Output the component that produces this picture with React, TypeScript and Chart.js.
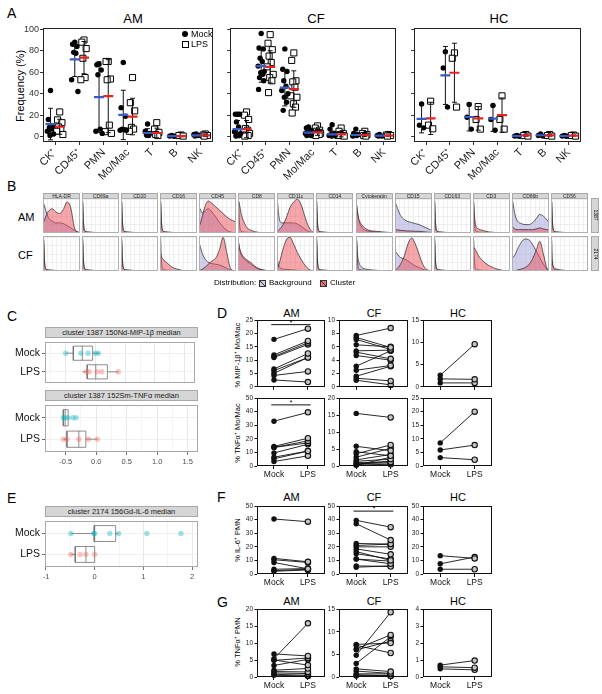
import React, { useEffect, useRef } from 'react';
import { Chart, registerables } from 'chart.js';

Chart.register(...registerables);

const FONT = "'Liberation Sans', Arial, Helvetica, sans-serif";
Chart.defaults.font.family = FONT;

const boxBorder = {
  id: 'boxBorder',
  afterDraw(chart: any, _a: any, opts: any) {
    if (!opts || !opts.color) return;
    const { ctx, chartArea: a } = chart;
    ctx.save();
    ctx.strokeStyle = opts.color;
    ctx.lineWidth = opts.width || 1;
    ctx.strokeRect(Math.round(a.left) + 0.5, Math.round(a.top) + 0.5, Math.round(a.width) - 1, Math.round(a.height) - 1);
    ctx.restore();
  },
};
Chart.register(boxBorder);

// ---------------- Panel A data ----------------
const A_CATS = ['CK⁺', 'CD45⁺', 'PMN', 'Mo/Mac', 'T', 'B', 'NK'];
const A_YTICKS = [0, 20, 40, 60, 80, 100];

const AM_MOCK = [[43, 16, 10, 8.6, 7, 5, 2.5, 1], [88, 86, 84, 78.5, 77.6, 53, 42], [67.5, 67, 62, 57.7, 7, 5, 3], [69, 27, 19, 7, 6.4, 6, 6], [11.7, 5, 3, 1.5, 1], [1, 0.5, 0.3], [2.5, 2, 1, 0.5]];
const AM_LPS = [[23, 15.6, 13, 9, 7, 5, 2], [90, 88, 82, 73, 55, 53], [70, 70, 53.7, 53, 10.7, 4.6, 3], [55, 31.6, 24, 8.6, 7, 5], [13, 7, 4, 2, 1], [1.5, 1, 0.5], [2.5, 1.5, 1, 0.5]];
const AM_MOCK_MEAN = [11.7, 72, 36.8, 20.2, 3.4, 0.4, 1.1];
const AM_MOCK_SD = [14.7, 16, 33, 23, 4, 0.4, 0.9];
const AM_LPS_MEAN = [9.2, 73.6, 37.7, 18.7, 3.4, 0.4, 1.1];
const AM_LPS_SD = [7, 15, 34, 17, 4.5, 0.5, 0.9];

const CF_MOCK = [[20.8, 20.8, 20.8, 13.7, 9, 4.6, 3, 1.5, 1, 0.5], [96, 82.6, 81.7, 73, 70, 65.7, 60.6, 59.6, 58, 55, 52, 44], [81.7, 62.7, 60.6, 52, 47, 43, 40, 36.7, 32, 24.5], [9, 8, 6, 5, 4, 3, 3, 2, 2, 1, 1], [11, 7, 3, 2, 1, 1, 1, 0.5], [7, 3, 2, 1, 1, 0.5], [2, 1, 0.5, 0.5]];
const CF_LPS = [[23, 20, 16, 7.6, 6, 4.6, 3, 1.5, 1, 0.5], [95, 87, 81, 75, 69, 65, 58, 55, 52, 41], [78, 71, 52, 51, 46, 38, 36.7, 30.6, 27.5, 22], [10, 8, 6, 5, 4, 3, 3, 2, 2, 1], [8, 5, 3, 2, 1, 1, 0.5], [5, 3, 2, 1, 0.5], [2, 1.5, 1, 0.5]];
const CF_MOCK_MEAN = [7, 65.7, 45.6, 3.7, 2.1, 1.5, 0.9];
const CF_MOCK_SD = [8, 15, 17, 2.5, 3, 2, 0.6];
const CF_LPS_MEAN = [7, 65, 44.3, 4, 2.1, 1.5, 0.9];
const CF_LPS_SD = [8, 15, 17, 2.8, 2.3, 1.5, 0.6];

const HC_MOCK = [[30.5, 10.7, 8.2], [79, 64, 27.5], [30, 18, 7], [29, 16, 6], [1, 0.5, 0.3], [2.5, 1, 0.5], [1, 0.5, 0.3]];
const HC_LPS = [[33, 10.7, 7.3], [78, 73, 27.5], [28, 16, 7], [38, 16, 7], [2, 1, 0.5], [2, 1, 0.5], [1.5, 1, 0.5]];
const HC_MOCK_MEAN = [16.5, 57, 18.3, 16.8, 0.6, 1.3, 0.6];
const HC_MOCK_SD = [13, 27, 13, 12, 0.4, 1, 0.4];
const HC_LPS_MEAN = [17, 59.5, 17, 20, 1.2, 1.2, 1];
const HC_LPS_SD = [15, 27.5, 11, 16, 0.8, 0.8, 0.5];

// ---------------- Panel B data ----------------
const HIST_MARKERS = ['HLA-DR', 'CD69a', 'CD20', 'CD16', 'CD45', 'CD8', 'CD11c', 'CD14', 'Cytokeratin', 'CD15', 'CD163', 'CD3', 'CD66b', 'CD56'];
const HIST_X = [0, 0.015, 0.04, 0.08, 0.15, 0.25, 0.35, 0.45, 0.55, 0.65, 0.75, 0.85, 0.95, 1.0];
const SPIKE = [0, 0.95, 0.3, 0.06, 0.03, 0.02, 0.015, 0.01, 0.01, 0.005, 0, 0, 0, 0];
const HIST_AM_BG = [
  [0.9, 0.88, 0.8, 0.65, 0.45, 0.35, 0.3, 0.3, 0.28, 0.22, 0.15, 0.08, 0.03, 0],
  SPIKE, SPIKE, SPIKE,
  [0.75, 0.74, 0.7, 0.6, 0.65, 0.72, 0.62, 0.48, 0.32, 0.18, 0.08, 0.03, 0.01, 0],
  SPIKE,
  [0, 0.9, 0.6, 0.35, 0.3, 0.3, 0.3, 0.3, 0.27, 0.2, 0.12, 0.05, 0.01, 0],
  SPIKE,
  [0, 0.85, 0.6, 0.35, 0.18, 0.08, 0.05, 0.04, 0.03, 0.02, 0.01, 0, 0, 0],
  [0.9, 0.88, 0.82, 0.7, 0.52, 0.4, 0.34, 0.31, 0.28, 0.25, 0.2, 0.15, 0.1, 0.08],
  SPIKE, SPIKE,
  [0, 0.95, 0.8, 0.55, 0.35, 0.28, 0.25, 0.25, 0.3, 0.42, 0.55, 0.5, 0.38, 0.3],
  SPIKE,
];
const HIST_AM_CL = [
  [0.3, 0.32, 0.38, 0.5, 0.65, 0.72, 0.62, 0.58, 0.7, 0.92, 0.75, 0.15, 0.02, 0],
  SPIKE, SPIKE, SPIKE,
  [0.2, 0.22, 0.3, 0.45, 0.75, 0.95, 0.88, 0.78, 0.68, 0.58, 0.48, 0.4, 0.35, 0.33],
  [0, 0.95, 0.85, 0.6, 0.35, 0.15, 0.08, 0.04, 0.02, 0.01, 0, 0, 0, 0],
  [0.03, 0.05, 0.08, 0.12, 0.22, 0.45, 0.75, 0.92, 1.0, 0.85, 0.5, 0.2, 0.04, 0],
  SPIKE,
  [0, 0.8, 0.62, 0.4, 0.25, 0.14, 0.08, 0.06, 0.05, 0.04, 0.03, 0.02, 0.01, 0],
  [0.1, 0.1, 0.1, 0.09, 0.08, 0.07, 0.06, 0.06, 0.05, 0.05, 0.04, 0.03, 0.02, 0.02],
  SPIKE,
  [0, 0.9, 0.5, 0.2, 0.12, 0.08, 0.05, 0.03, 0.02, 0.01, 0, 0, 0, 0],
  [0, 0.2, 0.15, 0.12, 0.1, 0.1, 0.1, 0.1, 0.1, 0.12, 0.15, 0.12, 0.1, 0.08],
  SPIKE,
];
const HIST_CF_BG = [
  SPIKE, SPIKE, SPIKE, SPIKE,
  [0.85, 0.8, 0.7, 0.55, 0.38, 0.26, 0.22, 0.2, 0.18, 0.14, 0.08, 0.03, 0.01, 0],
  [0, 0.8, 0.65, 0.5, 0.38, 0.28, 0.2, 0.12, 0.06, 0.03, 0.01, 0, 0, 0],
  [0, 0.3, 0.18, 0.1, 0.06, 0.05, 0.04, 0.03, 0.02, 0.01, 0, 0, 0, 0],
  SPIKE,
  [0, 0.9, 0.5, 0.25, 0.12, 0.06, 0.04, 0.03, 0.02, 0.01, 0, 0, 0, 0],
  [0.6, 0.58, 0.55, 0.48, 0.4, 0.36, 0.3, 0.22, 0.15, 0.1, 0.05, 0.02, 0.01, 0],
  SPIKE, SPIKE,
  [0.45, 0.44, 0.42, 0.48, 0.65, 0.85, 0.95, 0.93, 0.8, 0.6, 0.4, 0.2, 0.06, 0.02],
  SPIKE,
];
const HIST_CF_CL = [
  SPIKE, SPIKE, SPIKE,
  [0, 0.5, 0.42, 0.35, 0.28, 0.18, 0.1, 0.06, 0.03, 0.01, 0, 0, 0, 0],
  [0.02, 0.02, 0.03, 0.05, 0.1, 0.2, 0.3, 0.38, 0.62, 1.0, 0.55, 0.08, 0.01, 0],
  [0, 0.85, 0.7, 0.55, 0.42, 0.32, 0.25, 0.15, 0.08, 0.04, 0.02, 0, 0, 0],
  [0, 0.08, 0.15, 0.3, 0.6, 0.92, 1.0, 0.8, 0.55, 0.35, 0.18, 0.06, 0.01, 0],
  SPIKE, SPIKE,
  [0.02, 0.03, 0.05, 0.1, 0.2, 0.45, 0.8, 0.98, 0.8, 0.5, 0.2, 0.05, 0.01, 0],
  SPIKE,
  [0, 0.7, 0.68, 0.6, 0.45, 0.32, 0.22, 0.15, 0.1, 0.06, 0.03, 0.01, 0, 0],
  [0, 0, 0, 0.01, 0.03, 0.06, 0.1, 0.18, 0.35, 0.6, 0.88, 0.5, 0.05, 0],
  [0, 0.35, 0.2, 0.1, 0.06, 0.03, 0.02, 0.01, 0, 0, 0, 0, 0, 0],
];

// ---------------- Panel C / E data (lo, q1, median, q3, hi) ----------------
const BOX_GROUPS = ['Mock', 'LPS'];
const C_MIP_MOCK_BOX = [-0.495, -0.366, -0.215, -0.043, 0.08];
const C_MIP_MOCK_PTS = [-0.495, -0.24, -0.12, 0, 0.05];
const C_MIP_LPS_BOX = [-0.215, -0.134, 0.01, 0.204, 0.387];
const C_MIP_LPS_PTS = [-0.15, -0.1, 0.03, 0.11, 0.387];
const C_TNF_MOCK_BOX = [-0.54, -0.54, -0.51, -0.46, -0.46];
const C_TNF_MOCK_PTS = [-0.54, -0.51, -0.46, -0.38, -0.33];
const C_TNF_LPS_BOX = [-0.54, -0.48, -0.285, -0.17, 0.02];
const C_TNF_LPS_PTS = [-0.54, -0.48, -0.285, -0.13, 0.02];
const C_XMAJOR = [-0.5, 0, 0.5, 1, 1.5];
const C_XMINOR = [-0.75, -0.25, 0.25, 0.75, 1.25];
const E_IL6_MOCK_BOX = [-0.49, -0.01, 0.0, 0.43, 0.49];
const E_IL6_MOCK_PTS = [-0.49, -0.02, 0.0, 0.31, 0.49, 1.07, 1.77];
const E_IL6_LPS_BOX = [-0.49, -0.4, -0.18, 0.0, 0.0];
const E_IL6_LPS_PTS = [-0.49, -0.3, -0.18, 0.0];
const E_XMAJOR = [-1, 0, 1, 2];
const E_XMINOR = [-0.5, 0.5, 1.5];

// ---------------- Panels D / F / G data ----------------
const PAIR_LABELS = ['Mock', 'LPS'];
const D_MIP_AM_MOCK = [17.8, 12.0, 11.4, 11.0, 6.7, 6.1, 5.1, 4.3, 2.6];
const D_MIP_AM_LPS = [21.8, 17.2, 16.5, 15.9, 12.5, 11.0, 11.0, 5.8, 1.8];
const D_MIP_CF_MOCK = [7.7, 7.4, 7.1, 6.3, 5.4, 5.2, 4.7, 3.1, 2.5, 1.6, 1.3, 1.0];
const D_MIP_CF_LPS = [8.8, 5.9, 5.6, 6.0, 5.5, 4.2, 4.0, 5.4, 3.2, 3.1, 0.9, 0.3];
const D_MIP_HC_MOCK = [2.6, 1.8, 0.9];
const D_MIP_HC_LPS = [9.6, 1.7, 0.9];
const D_TNF_AM_MOCK = [33, 14.4, 13.7, 13.7, 9.6, 6.5, 5.3, 3.3];
const D_TNF_AM_LPS = [39.5, 20.5, 18.5, 17, 16, 11, 11, 7.5];
const D_TNF_CF_MOCK = [15.5, 5.8, 4.2, 3.6, 2.6, 1.8, 1.4, 1.0, 0.7, 0.4, 0.3, 0.2];
const D_TNF_CF_LPS = [14.3, 4.5, 3.0, 6.2, 5.2, 3.4, 2.0, 1.2, 0.9, 1.5, 0.5, 2.6];
const D_TNF_HC_MOCK = [8.5, 5.9, 3.1];
const D_TNF_HC_LPS = [20, 7.7, 2.3];
const F_IL6_AM_MOCK = [40.5, 11.5, 10.5, 8.5, 3.5, 2.5, 2.0];
const F_IL6_AM_LPS = [38.5, 9.0, 8.5, 3.8, 4.0, 3.5, 3.0];
const F_IL6_CF_MOCK = [39.5, 37, 22.5, 21, 20, 18.5, 16.5, 15, 11, 11, 6, 5];
const F_IL6_CF_LPS = [34.5, 25, 22, 22, 20, 14.5, 10, 11, 7.5, 9.5, 5.5, 6];
const F_IL6_HC_MOCK = [13.5, 7.5, 3.5];
const F_IL6_HC_LPS = [11.5, 12.5, 3.5];
const G_TNF_AM_MOCK = [6.8, 5.4, 5.0, 4.9, 3.4, 2.0, 1.6, 1.2, 0.8, 0.5];
const G_TNF_AM_LPS = [6.2, 15.8, 3.5, 5.6, 5.2, 2.5, 1.5, 1.0, 0.5, 0.3];
const G_TNF_CF_MOCK = [7.2, 7.0, 6.2, 6.0, 4.8, 3.0, 1.8, 1.3, 0.7, 0.5, 0.3, 0.2];
const G_TNF_CF_LPS = [7.5, 5.3, 9.3, 7.9, 14.3, 8.9, 1.2, 0.8, 0.7, 0.3, 0.2, 0.4];
const G_TNF_HC_MOCK = [0.7, 0.6, 0.48];
const G_TNF_HC_LPS = [0.97, 0.55, 0.42];

// ---------------- generic chart canvas ----------------
function ChartCanvas({ x, y, w, h, l = 0, b = 0, t = 0, r = 0, make }: any) {
  const ref = useRef<HTMLCanvasElement | null>(null);
  const X = Math.round(x), Y = Math.round(y), W0 = Math.round(w), H0 = Math.round(h);
  const W = W0 + l + r, H = H0 + t + b;
  useEffect(() => {
    const m = make();
    const scales = m.scales;
    if (scales.x) scales.x.afterFit = (s: any) => { s.height = b; s.paddingLeft = 0; s.paddingRight = 0; };
    if (scales.y) scales.y.afterFit = (s: any) => { s.width = l; s.paddingTop = 0; s.paddingBottom = 0; };
    const chart = new Chart(ref.current as HTMLCanvasElement, {
      type: m.type || 'scatter',
      data: { datasets: m.datasets },
      options: {
        responsive: false, maintainAspectRatio: false, animation: false, events: [], devicePixelRatio: 1,
        layout: { padding: { top: t, right: r, left: 0, bottom: 0 } },
        plugins: { legend: { display: false }, tooltip: { enabled: false }, boxBorder: m.border || {} },
        scales,
      } as any,
    } as any);
    return () => chart.destroy();
  }, []);
  return <canvas ref={ref} width={W} height={H} style={{ position: 'absolute', left: X - l, top: Y - t, width: W, height: H }} />;
}

function Txt({ x, y, s = 10, children, rot = 0, anchor = 'c', color = '#000', style = {} }: any) {
  const tx = anchor === 'c' ? '-50%' : anchor === 'r' ? '-100%' : '0';
  return (
    <div style={{ position: 'absolute', left: x, top: y, transform: `translate(${tx},-50%) rotate(${rot}deg)`, fontSize: s, lineHeight: 1, whiteSpace: 'nowrap', color, fontFamily: FONT, ...style }}>
      {children}
    </div>
  );
}

// ---------------- Panel A ----------------
function panelA(mock: number[][], lps: number[][], mM: number[], mS: number[], lM: number[], lS: number[], showY: boolean) {
  return () => {
    const OFF = 0.19;
    const JIT = [0, -0.09, 0.09, -0.045, 0.045, -0.13, 0.13, -0.02, 0.07, -0.07, 0.11, -0.11];
    const pts = (g: number[][], off: number) => g.flatMap((arr, ci) => arr.map((v, i) => ({ x: ci + 1 + off + JIT[i % JIT.length], y: v })));
    const bars = (m: number[], s: number[], off: number) => m.flatMap((v, ci) => [{ x: ci + 1 + off, y: v - s[ci] }, { x: ci + 1 + off, y: v + s[ci] }, { x: null, y: null }]);
    const caps = (m: number[], s: number[], off: number) => m.flatMap((v, ci) => [{ x: ci + 1 + off, y: v - s[ci] }, { x: ci + 1 + off, y: v + s[ci] }]);
    const mid = (m: number[], off: number) => m.map((v, ci) => ({ x: ci + 1 + off, y: v }));
    const datasets = [
      { data: mid(mM, -OFF), pointStyle: 'line', pointRadius: 5, pointBorderColor: '#3a5bc7', pointBorderWidth: 2.2, order: 0 },
      { data: mid(lM, OFF), pointStyle: 'line', pointRadius: 5, pointBorderColor: '#e8231d', pointBorderWidth: 2.2, order: 0 },
      { data: bars(mM, mS, -OFF), showLine: true, spanGaps: false, borderColor: '#111', borderWidth: 1, pointRadius: 0, order: 1 },
      { data: bars(lM, lS, OFF), showLine: true, spanGaps: false, borderColor: '#111', borderWidth: 1, pointRadius: 0, order: 1 },
      { data: caps(mM, mS, -OFF), pointStyle: 'line', pointRadius: 2.5, pointBorderColor: '#111', pointBorderWidth: 1, order: 1 },
      { data: caps(lM, lS, OFF), pointStyle: 'line', pointRadius: 2.5, pointBorderColor: '#111', pointBorderWidth: 1, order: 1 },
      { data: pts(mock, -OFF), pointStyle: 'circle', pointRadius: 2.7, pointBackgroundColor: '#000', pointBorderWidth: 0, order: 2 },
      { data: pts(lps, OFF), pointStyle: 'rect', pointRadius: 4.3, pointBackgroundColor: '#fff', pointBorderColor: '#000', pointBorderWidth: 1, order: 2 },
    ];
    return {
      datasets,
      border: { color: '#222', width: 1 },
      scales: {
        x: {
          type: 'linear', min: 0.5, max: 7.5,
          afterBuildTicks: (s: any) => { s.ticks = A_CATS.map((_, i) => ({ value: i + 1 })); },
          ticks: { autoSkip: false, minRotation: 45, maxRotation: 45, font: { size: 11 }, color: '#222', padding: 1, callback: (v: number) => A_CATS[Math.round(v) - 1] },
          grid: { drawOnChartArea: false, tickLength: 3, color: '#333' }, border: { display: false },
        },
        y: {
          type: 'linear', min: -5, max: 101,
          afterBuildTicks: (s: any) => { s.ticks = A_YTICKS.map((v) => ({ value: v })); },
          ticks: { font: { size: 9 }, color: '#333', padding: 1, display: true, callback: (v: number) => (showY ? String(v) : '') },
          grid: { drawOnChartArea: false, tickLength: 3, color: '#333' }, border: { display: false },
        },
      },
    };
  };
}

// ---------------- Panel B ----------------
function histMake(bg: number[], cl: number[]) {
  return () => ({
    type: 'line',
    datasets: [
      { data: HIST_X.map((x, i) => ({ x, y: bg[i] })), fill: 'origin', backgroundColor: 'rgba(170,170,222,0.55)', borderColor: '#222', borderWidth: 0.7, pointRadius: 0, cubicInterpolationMode: 'monotone', order: 1 },
      { data: HIST_X.map((x, i) => ({ x, y: cl[i] })), fill: 'origin', backgroundColor: 'rgba(236,80,90,0.5)', borderColor: '#222', borderWidth: 0.7, pointRadius: 0, cubicInterpolationMode: 'monotone', order: 0 },
    ],
    border: { color: '#b0b0b0', width: 1 },
    scales: {
      x: { type: 'linear', min: 0, max: 1, afterBuildTicks: (s: any) => { s.ticks = [0, 0.125, 0.25, 0.375, 0.5, 0.625, 0.75, 0.875, 1].map((v) => ({ value: v })); }, ticks: { display: false }, grid: { color: '#e8e8e8', drawTicks: false, lineWidth: 0.7 }, border: { display: false } },
      y: { type: 'linear', min: 0, max: 1.04, afterBuildTicks: (s: any) => { s.ticks = [0, 0.25, 0.5, 0.75, 1].map((v) => ({ value: v })); }, ticks: { display: false }, grid: { color: '#e8e8e8', drawTicks: false, lineWidth: 0.7 }, border: { display: false } },
    },
  });
}

// ---------------- Panels C / E ----------------
function boxMake(mb: number[], mp: number[], lb: number[], lp: number[], xmin: number, xmax: number, major: number[], minor: number[], fmt: (v: number) => string, showX: boolean) {
  return () => {
    const H = 0.38;
    const grp = (bx: number[], pts: number[], y: number, col: string) => [
      { data: pts.map((v) => ({ x: v, y })), pointRadius: 2.7, pointBackgroundColor: col, pointBorderWidth: 0, order: 0 },
      { data: [{ x: bx[1], y: y - H }, { x: bx[3], y: y - H }, { x: bx[3], y: y + H }, { x: bx[1], y: y + H }, { x: bx[1], y: y - H }], showLine: true, borderColor: '#707070', borderWidth: 0.8, pointRadius: 0, order: 1 },
      { data: [{ x: bx[2], y: y - H }, { x: bx[2], y: y + H }], showLine: true, borderColor: '#707070', borderWidth: 0.8, pointRadius: 0, order: 1 },
      { data: [{ x: bx[0], y }, { x: bx[1], y }, { x: null, y: null }, { x: bx[3], y }, { x: bx[4], y }], showLine: true, spanGaps: false, borderColor: '#707070', borderWidth: 0.8, pointRadius: 0, order: 1 },
    ];
    const all = [...major, ...minor].sort((a, b) => a - b);
    return {
      datasets: [...grp(mb, mp, 2, 'rgba(0,180,192,0.38)'), ...grp(lb, lp, 1, 'rgba(245,100,90,0.38)')],
      border: { color: '#a8a8a8', width: 1 },
      scales: {
        x: {
          type: 'linear', min: xmin, max: xmax,
          afterBuildTicks: (s: any) => { s.ticks = all.map((v) => ({ value: v })); },
          ticks: { display: showX, autoSkip: false, maxRotation: 0, font: { size: 7.5 }, color: '#4d4d4d', padding: 2, callback: (v: number) => (major.includes(v) ? fmt(v) : '') },
          grid: { color: (c: any) => (major.includes(c.tick && c.tick.value) ? '#e2e2e2' : '#f3f3f3'), tickColor: (c: any) => (major.includes(c.tick && c.tick.value) ? '#555' : 'rgba(0,0,0,0)'), drawTicks: showX, tickLength: 3, lineWidth: 0.8 },
          border: { display: false },
        },
        y: {
          type: 'linear', min: 0.4, max: 2.6,
          afterBuildTicks: (s: any) => { s.ticks = [{ value: 1 }, { value: 2 }]; },
          ticks: { font: { size: 10.5 }, color: '#111', padding: 2, callback: (v: number) => BOX_GROUPS[2 - v] },
          grid: { color: '#ececec', tickColor: '#444', tickLength: 3, lineWidth: 0.8 },
          border: { display: false },
        },
      },
    };
  };
}

// ---------------- Panels D / F / G ----------------
function pairMake(mock: number[], lps: number[], max: number, step: number, showX: boolean, sig?: number) {
  return () => {
    const datasets: any[] = mock.map((m, i) => ({
      data: [{ x: 0, y: m }, { x: 1, y: lps[i] }], showLine: true, borderColor: '#111', borderWidth: 0.9,
      pointRadius: 2.7, pointBackgroundColor: ['#111', '#c4c4c4'], pointBorderColor: '#111', pointBorderWidth: [0, 1.1], clip: false,
    }));
    if (sig !== undefined) datasets.push({ data: [{ x: -0.08, y: sig }, { x: 1.08, y: sig }], showLine: true, borderColor: '#111', borderWidth: 1, pointRadius: 0, clip: false });
    return {
      datasets,
      border: { color: '#111', width: 1 },
      scales: {
        x: {
          type: 'linear', min: -0.5, max: 1.5,
          afterBuildTicks: (s: any) => { s.ticks = [{ value: 0 }, { value: 1 }]; },
          ticks: { display: showX, autoSkip: false, maxRotation: 0, font: { size: 8.5 }, color: '#111', padding: 1, callback: (v: number) => PAIR_LABELS[v] },
          grid: { drawOnChartArea: false, tickLength: 3, color: '#111' }, border: { display: false },
        },
        y: {
          type: 'linear', min: 0, max,
          ticks: { stepSize: step, font: { size: 6.5 }, color: '#222', padding: 1.5 },
          grid: { drawOnChartArea: false, tickLength: 2.5, color: '#111' }, border: { display: false },
        },
      },
    };
  };
}

function Swatch({ x, y, fill }: any) {
  return (
    <div style={{ position: 'absolute', left: x, top: y, width: 7, height: 7, boxSizing: 'border-box', border: '1px solid #333', background: `linear-gradient(to top right, ${fill} calc(50% - 0.7px), #333 50%, ${fill} calc(50% + 0.7px))` }} />
  );
}

export default function App() {
  const hx = (i: number) => 43 + i * 39.07;
  const cols = [{ x: 257, w: 69 }, { x: 339, w: 70 }, { x: 423, w: 70 }];
  const rowD1 = { y: 320.3, h: 68.4 }, rowD2 = { y: 398.3, h: 68.4 }, rowF = { y: 505.8, h: 67.5 }, rowG = { y: 608.5, h: 67.8 };
  const pairs = [
    { row: rowD1, c: 0, make: pairMake(D_MIP_AM_MOCK, D_MIP_AM_LPS, 25, 5, false, 23.3), b: 4 },
    { row: rowD1, c: 1, make: pairMake(D_MIP_CF_MOCK, D_MIP_CF_LPS, 10, 2, false), b: 4 },
    { row: rowD1, c: 2, make: pairMake(D_MIP_HC_MOCK, D_MIP_HC_LPS, 15, 5, false), b: 4 },
    { row: rowD2, c: 0, make: pairMake(D_TNF_AM_MOCK, D_TNF_AM_LPS, 50, 10, true, 45), b: 14 },
    { row: rowD2, c: 1, make: pairMake(D_TNF_CF_MOCK, D_TNF_CF_LPS, 20, 5, true), b: 14 },
    { row: rowD2, c: 2, make: pairMake(D_TNF_HC_MOCK, D_TNF_HC_LPS, 25, 5, true), b: 14 },
    { row: rowF, c: 0, make: pairMake(F_IL6_AM_MOCK, F_IL6_AM_LPS, 50, 10, true), b: 14 },
    { row: rowF, c: 1, make: pairMake(F_IL6_CF_MOCK, F_IL6_CF_LPS, 50, 10, true, 46.3), b: 14 },
    { row: rowF, c: 2, make: pairMake(F_IL6_HC_MOCK, F_IL6_HC_LPS, 50, 10, true), b: 14 },
    { row: rowG, c: 0, make: pairMake(G_TNF_AM_MOCK, G_TNF_AM_LPS, 20, 5, true), b: 14 },
    { row: rowG, c: 1, make: pairMake(G_TNF_CF_MOCK, G_TNF_CF_LPS, 15, 5, true), b: 14 },
    { row: rowG, c: 2, make: pairMake(G_TNF_HC_MOCK, G_TNF_HC_LPS, 4, 1, true), b: 14 },
  ];
  const header = (x: number, y: number, w: number, h: number, text: string, s: number) => (
    <div style={{ position: 'absolute', left: x, top: y, width: w, height: h, boxSizing: 'border-box', background: '#d6d6d6', border: '1px solid #a8a8a8', fontSize: s, lineHeight: `${h - 2}px`, textAlign: 'center', color: '#1a1a1a', whiteSpace: 'nowrap', overflow: 'hidden', fontFamily: FONT }}>{text}</div>
  );
  return (
    <div style={{ position: 'absolute', left: 0, top: 0, width: 602, height: 694, background: '#fff', overflow: 'hidden', fontFamily: FONT }}>
      {/* Panel letters */}
      <Txt x={7} y={13} s={14} anchor="l">A</Txt>
      <Txt x={7} y={186} s={14} anchor="l">B</Txt>
      <Txt x={7} y={316} s={14} anchor="l">C</Txt>
      <Txt x={217} y={313} s={14} anchor="l">D</Txt>
      <Txt x={7} y={498} s={14} anchor="l">E</Txt>
      <Txt x={217} y={497} s={14} anchor="l">F</Txt>
      <Txt x={217} y={602} s={14} anchor="l">G</Txt>

      {/* Panel A */}
      <Txt x={133} y={18} s={13}>AM</Txt>
      <Txt x={316} y={18} s={13}>CF</Txt>
      <Txt x={499} y={18} s={13}>HC</Txt>
      <Txt x={20} y={86} s={11} rot={-90}>Frequency (%)</Txt>
      <ChartCanvas x={43} y={27} w={175} h={115} l={31} b={50} t={6} r={2} make={panelA(AM_MOCK, AM_LPS, AM_MOCK_MEAN, AM_MOCK_SD, AM_LPS_MEAN, AM_LPS_SD, true)} />
      <ChartCanvas x={228} y={27} w={173} h={115} l={5} b={50} t={6} r={2} make={panelA(CF_MOCK, CF_LPS, CF_MOCK_MEAN, CF_MOCK_SD, CF_LPS_MEAN, CF_LPS_SD, false)} />
      <ChartCanvas x={412} y={27} w={174} h={115} l={5} b={50} t={6} r={2} make={panelA(HC_MOCK, HC_LPS, HC_MOCK_MEAN, HC_MOCK_SD, HC_LPS_MEAN, HC_LPS_SD, false)} />
      {/* legend inside AM */}
      <div style={{ position: 'absolute', left: 182, top: 30.5, width: 6, height: 6, borderRadius: 3, background: '#000' }} />
      <Txt x={191} y={33.5} s={9} anchor="l">Mock</Txt>
      <div style={{ position: 'absolute', left: 181.5, top: 40.5, width: 7, height: 7, boxSizing: 'border-box', border: '1px solid #000', background: '#fff' }} />
      <Txt x={191} y={44} s={9} anchor="l">LPS</Txt>

      {/* Panel B */}
      <Txt x={18} y={217} s={11} anchor="l">AM</Txt>
      <Txt x={18} y={255} s={11} anchor="l">CF</Txt>
      {HIST_MARKERS.map((m, i) => (
        <React.Fragment key={m}>
          {header(hx(i), 192.5, 37, 6, m, 5)}
          <ChartCanvas x={hx(i)} y={198} w={37} h={34.5} make={histMake(HIST_AM_BG[i], HIST_AM_CL[i])} />
          <ChartCanvas x={hx(i)} y={236} w={37} h={35} make={histMake(HIST_CF_BG[i], HIST_CF_CL[i])} />
        </React.Fragment>
      ))}
      <div style={{ position: 'absolute', left: 591, top: 198, width: 8, height: 34.5, background: '#d6d6d6', border: '1px solid #a8a8a8', boxSizing: 'border-box' }} />
      <Txt x={595} y={215} s={5} rot={90}>1387</Txt>
      <div style={{ position: 'absolute', left: 591, top: 236, width: 8, height: 35, background: '#d6d6d6', border: '1px solid #a8a8a8', boxSizing: 'border-box' }} />
      <Txt x={595} y={253.5} s={5} rot={90}>2174</Txt>
      <Txt x={214} y={283} s={8} anchor="l">Distribution:</Txt>
      <Swatch x={259} y={279.5} fill="#cfcfea" />
      <Txt x={269} y={283} s={8} anchor="l">Background</Txt>
      <Swatch x={320} y={279.5} fill="#ee7272" />
      <Txt x={330} y={283} s={8} anchor="l">Cluster</Txt>

      {/* Panel C */}
      {header(45, 327, 153, 11, 'cluster 1387 150Nd-MIP-1β median', 7.5)}
      <ChartCanvas x={45} y={338} w={153} h={49} l={45} b={0} t={0} r={1} make={boxMake(C_MIP_MOCK_BOX, C_MIP_MOCK_PTS, C_MIP_LPS_BOX, C_MIP_LPS_PTS, -0.84, 1.67, C_XMAJOR, C_XMINOR, (v) => v.toFixed(1), false)} />
      {header(45, 390, 153, 11, 'cluster 1387 152Sm-TNFα median', 7.5)}
      <ChartCanvas x={45} y={401} w={153} h={51} l={45} b={16} t={0} r={6} make={boxMake(C_TNF_MOCK_BOX, C_TNF_MOCK_PTS, C_TNF_LPS_BOX, C_TNF_LPS_PTS, -0.84, 1.67, C_XMAJOR, C_XMINOR, (v) => v.toFixed(1), true)} />

      {/* Panel E */}
      {header(45, 506, 153, 11, 'cluster 2174 156Gd-IL-6 median', 7.5)}
      <ChartCanvas x={45} y={517} w={153} h={50} l={45} b={16} t={0} r={6} make={boxMake(E_IL6_MOCK_BOX, E_IL6_MOCK_PTS, E_IL6_LPS_BOX, E_IL6_LPS_PTS, -1.02, 2.12, E_XMAJOR, E_XMINOR, (v) => String(v), true)} />

      {/* Panels D / F / G titles */}
      {[312.5, 497, 600.5].map((yy) => (
        <React.Fragment key={yy}>
          <Txt x={291.5} y={yy} s={11}>AM</Txt>
          <Txt x={374} y={yy} s={11}>CF</Txt>
          <Txt x={458} y={yy} s={11}>HC</Txt>
        </React.Fragment>
      ))}
      <Txt x={238} y={354.5} s={7.5} rot={-90}>% MIP-1β⁺ Mo/Mac</Txt>
      <Txt x={238} y={432.5} s={7.5} rot={-90}>% TNFα⁺ Mo/Mac</Txt>
      <Txt x={238} y={540} s={7.5} rot={-90}>% IL-6⁺ PMN</Txt>
      <Txt x={238} y={642} s={7.5} rot={-90}>% TNFα⁺ PMN</Txt>
      {pairs.map((p, i) => (
        <ChartCanvas key={i} x={cols[p.c].x} y={p.row.y} w={cols[p.c].w} h={p.row.h} l={18} b={p.b} t={5} r={4} make={p.make} />
      ))}
      <Txt x={291} y={321.5} s={7}>*</Txt>
      <Txt x={291} y={401.5} s={7}>*</Txt>
      <Txt x={374} y={507.5} s={7}>*</Txt>
    </div>
  );
}
